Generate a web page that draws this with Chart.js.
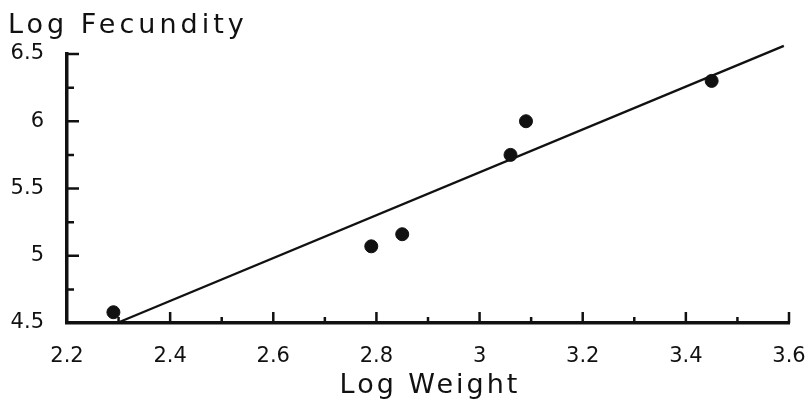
<!DOCTYPE html>
<html>
<head>
<meta charset="utf-8">
<script src="https://cdn.jsdelivr.net/npm/chart.js@4.4.1/dist/chart.umd.min.js"></script>
<style>
  html, body { margin: 0; padding: 0; background: #fff; }
  canvas { display: block; }
</style>
</head>
<body>
<canvas id="chart" width="812" height="402"></canvas>
<script>
// Log weight vs log fecundity, with fitted regression line
const logWeight    = [2.29, 2.79, 2.85, 3.06, 3.09, 3.45]
const logFecundity = [4.58, 5.07, 5.16, 5.75, 6.00, 6.30]

// fitted line
const fitX = [2.297, 3.59]
const fitY = [4.50, 6.56]

const xTitle = "Log Weight"
const yTitle = "Log Fecundity"

const INK = "#111"
const FONT = "'DejaVu Sans', sans-serif"

const fmt = v => String(Number(v.toFixed(2)))

// inward tick marks + the two spaced-out titles
const axisDecor = {
  id: "axisDecor",
  afterDraw(chart) {
    const { ctx, chartArea: a, scales: { x, y } } = chart
    ctx.save()
    ctx.strokeStyle = INK
    ctx.lineWidth = 2.5
    ctx.beginPath()
    for (let i = 1; i <= 14; i++) {
      const px = x.getPixelForValue(2.2 + i * 0.1)
      const len = i % 2 === 0 ? 11 : 6
      ctx.moveTo(px, a.bottom)
      ctx.lineTo(px, a.bottom - len)
    }
    for (let i = 1; i <= 8; i++) {
      const py = y.getPixelForValue(4.5 + i * 0.25)
      const len = i % 2 === 0 ? 12 : 7
      ctx.moveTo(a.left, py)
      ctx.lineTo(a.left + len, py)
    }
    ctx.stroke()

    ctx.fillStyle = INK
    ctx.textBaseline = "alphabetic"
    ctx.font = `27px ${FONT}`
    ctx.letterSpacing = "4px"
    ctx.textAlign = "left"
    ctx.fillText(yTitle, 8, 33)
    ctx.letterSpacing = "3px"
    ctx.textAlign = "center"
    ctx.fillText(xTitle, (a.left + a.right) / 2 + 2, 393)
    ctx.restore()
  },
}

new Chart(document.getElementById("chart"), {
  type: "scatter",
  data: {
    datasets: [
      {
        data: logWeight.map((w, i) => ({ x: w, y: logFecundity[i] })),
        backgroundColor: INK,
        borderColor: INK,
        pointRadius: 6.5,
        borderWidth: 1,
      },
      {
        data: fitX.map((w, i) => ({ x: w, y: fitY[i] })),
        showLine: true,
        clip: false,
        borderColor: INK,
        borderWidth: 2.4,
        pointRadius: 0,
      },
    ],
  },
  options: {
    responsive: false,
    devicePixelRatio: 1,
    animation: false,
    layout: { padding: { left: 8, top: 54, right: 23, bottom: 0 } },
    plugins: { legend: { display: false }, tooltip: { enabled: false } },
    scales: {
      x: {
        min: 2.2,
        max: 3.6,
        grid: { display: false, drawTicks: false },
        border: { display: true, color: INK, width: 3.5 },
        ticks: {
          stepSize: 0.2,
          autoSkip: false,
          maxRotation: 0,
          padding: 21,
          color: INK,
          font: { family: FONT, size: 21 },
          callback: fmt,
        },
        afterFit: s => {
          s.height = 79
          s.paddingLeft = 0
          s.paddingRight = 0
        },
      },
      y: {
        min: 4.5,
        max: 6.5,
        grid: { display: false, drawTicks: false },
        border: { display: true, color: INK, width: 3.5 },
        ticks: {
          stepSize: 0.5,
          autoSkip: false,
          padding: 23,
          color: INK,
          font: { family: FONT, size: 21 },
          callback: fmt,
        },
        afterFit: s => {
          s.width = 59
          s.paddingTop = 0
          s.paddingBottom = 0
        },
      },
    },
  },
  plugins: [axisDecor],
})
</script>
</body>
</html>
